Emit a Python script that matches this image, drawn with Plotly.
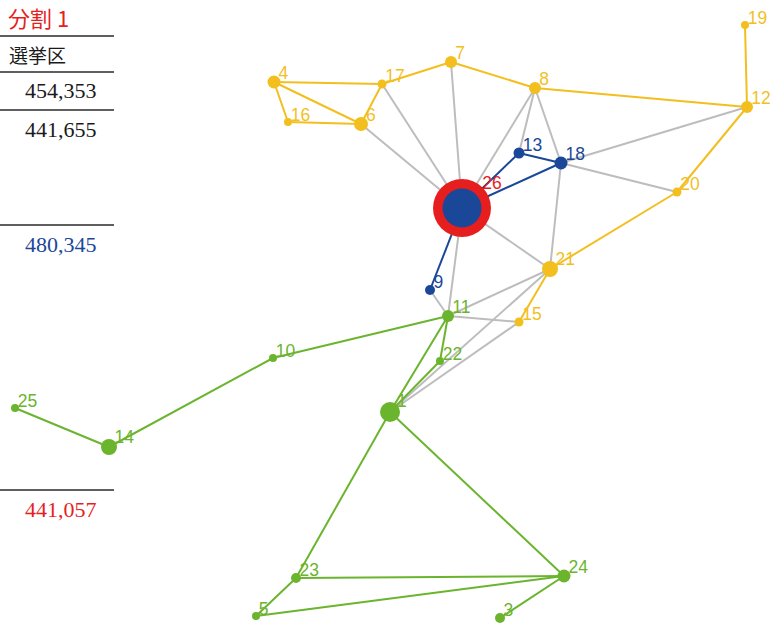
import plotly.graph_objects as go

W, H = 771, 641

YELLOW = "#f2bf1f"
BLUE   = "#1b4799"
GREEN  = "#6bb42e"
RED    = "#e61e1e"
GRAY   = "#bdbdbd"
INK    = "#1a1a1a"

# node id, position (layout coords), size, district
node_ids = [1, 3, 4, 5, 6, 7, 8, 9, 10, 11, 12, 13, 14, 15, 16, 17, 18, 19, 20, 21, 22, 23, 24, 25, 26]
node_x   = [390, 500, 274, 256, 361, 451, 535, 430, 273, 448, 747, 519, 109, 519, 288, 382, 561, 745, 677, 550, 440, 296, 564, 15, 462]
node_y   = [412, 618, 82, 616, 124, 62, 88, 290, 358, 316, 107, 153, 447, 322, 122, 84, 163, 25, 192, 269, 361, 578, 576, 408, 208]
node_size = [20, 10, 13, 8, 14, 12, 12, 10, 8, 12, 12, 11, 16, 9, 8, 9, 13, 8, 9, 16, 8, 10, 13, 8, 39]
node_district = ["g", "g", "y", "g", "y", "y", "y", "b", "g", "g", "y", "b", "g", "y", "y", "y", "b", "y", "y", "y", "g", "g", "g", "g", "b"]

capital = 26
capital_ring = 58

edges = [
    (4, 17), (4, 16), (4, 6), (16, 6), (6, 17), (17, 7), (7, 8), (8, 12),
    (12, 19), (12, 20), (20, 21), (21, 15),
    (17, 26), (6, 26), (7, 26), (8, 26), (8, 13), (8, 18), (12, 18), (20, 18),
    (18, 21), (26, 21), (26, 11), (9, 11), (11, 21), (11, 15), (1, 21), (1, 15),
    (26, 13), (26, 18), (13, 18), (26, 9),
    (11, 10), (10, 14), (14, 25), (11, 1), (11, 22), (22, 1),
    (1, 23), (1, 24), (23, 24), (23, 5), (5, 24), (24, 3),
]

district_color = {"y": YELLOW, "b": BLUE, "g": GREEN}

# left-hand summary table
title_text = "分割 1"
header_text = "選挙区"
pop_values = ["454,353", "441,655", "480,345", "441,057"]
pop_colors = [INK, INK, BLUE, RED]
pop_rows_y = [91, 130, 244, 509]
rule_rows_y = [36, 72, 110, 225, 490]

pos = {n: (x, y) for n, x, y in zip(node_ids, node_x, node_y)}
dist = dict(zip(node_ids, node_district))

fig = go.Figure()

# labels first so edges and nodes are drawn over them.
# label offset grows with the visible node radius; the hidden marker only drives that offset
visible = [capital_ring if n == capital else s for n, s in zip(node_ids, node_size)]
label_pad = [max(0.56 * v - 1.6, 0.5) for v in visible]

fig.add_trace(go.Scatter(
    x=node_x, y=node_y,
    xaxis="x2", yaxis="y2",
    mode="markers+text",
    marker=dict(size=label_pad, opacity=0),
    text=[str(n) for n in node_ids],
    textposition="top right",
    textfont=dict(
        family="Liberation Sans, Arial",
        size=17.5,
        color=[RED if n == capital else district_color[d] for n, d in zip(node_ids, node_district)],
    ),
    hoverinfo="skip",
))

groups = {}
for a, b in edges:
    key = dist[a] if dist[a] == dist[b] else "gray"
    groups.setdefault(key, ([], []))
    groups[key][0].extend([pos[a][0], pos[b][0], None])
    groups[key][1].extend([pos[a][1], pos[b][1], None])

for key in ["gray", "y", "g", "b"]:
    if key not in groups:
        continue
    xs, ys = groups[key]
    fig.add_trace(go.Scatter(
        x=xs, y=ys, mode="lines",
        line=dict(color=GRAY if key == "gray" else district_color[key], width=2),
        hoverinfo="skip",
    ))

# red ring behind the capital node
fig.add_trace(go.Scatter(
    x=[pos[capital][0]], y=[pos[capital][1]], mode="markers",
    marker=dict(size=capital_ring, color=RED, opacity=1), hoverinfo="skip",
))

fig.add_trace(go.Scatter(
    x=node_x, y=node_y, mode="markers",
    marker=dict(
        size=node_size,
        color=[district_color[d] for d in node_district],
        opacity=1,
        line=dict(width=0),
    ),
    hoverinfo="skip",
))

# table rules
for y in rule_rows_y:
    fig.add_shape(type="line", xref="paper", yref="paper",
                  x0=0, x1=114 / W, y0=1 - y / H, y1=1 - y / H,
                  line=dict(color="#2a2a2a", width=1.5))

fig.add_annotation(text=title_text, xref="paper", yref="paper",
                   x=6 / W, y=1 - 17 / H, xanchor="left", yanchor="middle",
                   showarrow=False,
                   font=dict(family="Noto Sans CJK JP", size=22, color=RED))
fig.add_annotation(text=header_text, xref="paper", yref="paper",
                   x=7 / W, y=1 - 54 / H, xanchor="left", yanchor="middle",
                   showarrow=False,
                   font=dict(family="Noto Sans CJK JP", size=19, color=INK))
for txt, col, y in zip(pop_values, pop_colors, pop_rows_y):
    fig.add_annotation(text=txt, xref="paper", yref="paper",
                       x=99 / W, y=1 - y / H, xanchor="right", yanchor="middle",
                       showarrow=False,
                       font=dict(family="Liberation Serif, DejaVu Serif", size=22, color=col))

fig.update_layout(
    width=W, height=H,
    margin=dict(l=0, r=0, t=0, b=0),
    paper_bgcolor="white",
    plot_bgcolor="white",
    showlegend=False,
    xaxis=dict(range=[0, W], visible=False, fixedrange=True),
    yaxis=dict(range=[H, 0], visible=False, fixedrange=True),
    # label layer sits a few pixels lower than the node layer
    xaxis2=dict(range=[0, W], visible=False, fixedrange=True, overlaying="x"),
    yaxis2=dict(range=[H - 6, -6], visible=False, fixedrange=True, overlaying="y"),
)

fig.write_html(
    "out.html",
    config={"displayModeBar": False},
    post_script="document.body.style.margin='0';",
)
